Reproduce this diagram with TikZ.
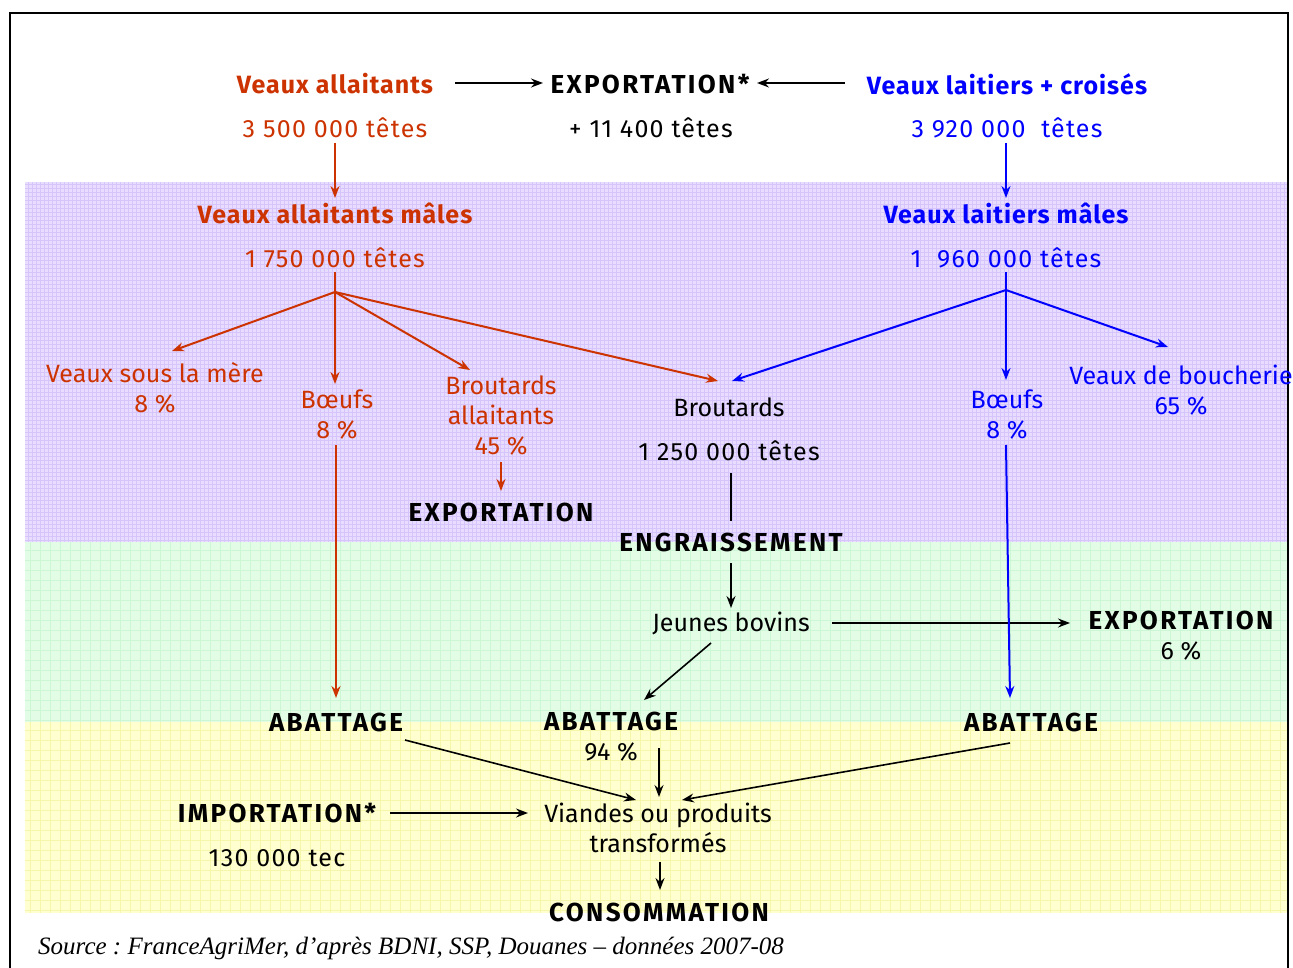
\documentclass[tikz,border=0pt]{standalone}
\usepackage{fontspec}
\setmainfont{Fira Sans}
\newfontfamily\srcfont{Liberation Serif}
\usetikzlibrary{arrows.meta,calc}
\definecolor{cred}{RGB}{204,51,0}
\definecolor{cblue}{RGB}{0,0,255}
\definecolor{bandpurple}{RGB}{232,220,255}
\definecolor{gridpurple}{RGB}{214,196,252}
\definecolor{bandgreen}{RGB}{226,252,230}
\definecolor{gridgreen}{RGB}{204,246,212}
\definecolor{bandyellow}{RGB}{255,255,208}
\definecolor{gridyellow}{RGB}{246,246,170}
\newcommand{\capsb}[1]{{\fontsize{26}{30}\selectfont\bfseries\addfontfeature{LetterSpace=9}#1}}
\tikzset{
  txt/.style={inner sep=0pt, align=center, font=\fontsize{25}{30}\selectfont},
  num/.style={txt, font=\fontsize{25}{30}\selectfont\addfontfeature{LetterSpace=5}},
  hd/.style={txt, font=\fontsize{25}{30}\selectfont\bfseries\addfontfeature{LetterSpace=4}},
  hdc/.style={txt, font=\fontsize{26}{30}\selectfont\bfseries\addfontfeature{LetterSpace=9}},
  arr/.style={line width=1.6pt, -{Stealth[length=12pt,width=9pt,inset=4pt]}},
  redarr/.style={arr, draw=cred, line width=2pt},
  bluearr/.style={arr, draw=cblue, line width=2pt},
}
\begin{document}
\begin{tikzpicture}[x=1pt,y=-1pt]
\useasboundingbox (0,0) rectangle (1293,968);
\clip (0,0) rectangle (1293,968);
\fill[white] (0,0) rectangle (1293,968);
% bands
\fill[bandpurple] (25,182) rectangle (1288,542);
\draw[gridpurple, line width=0.5pt, step=4pt] (25,182) grid (1288,542);
\fill[bandgreen] (25,542) rectangle (1288,722);
\draw[gridgreen, line width=0.5pt, step=10pt] (25,542) grid (1288,722);
\fill[bandyellow] (25,722) rectangle (1288,913);
\draw[gridyellow, line width=0.5pt, step=10pt] (25,722) grid (1288,913);
% frame
\draw[line width=2.5pt] (10,13) rectangle (1288,1000);

% nodes
\node[hd, text=cred] (va) at (335,84) {Veaux allaitants};
\node[num, text=cred] (vat) at (335,128) {3 500 000 têtes};
\node[hdc] (exp1) at (650,84) {EXPORTATION*};
\node[num] (expt) at (651,128) {+ 11 400 têtes};
\node[hd, text=cblue] (vl) at (1007,84) {Veaux laitiers + croisés};
\node[num, text=cblue] (vlt) at (1007,128) {3 920 000~~têtes};
\node[hd, text=cred] (vam) at (335,213) {Veaux allaitants mâles};
\node[num, text=cred] (vamt) at (335,258) {1 750 000 têtes};
\node[hd, text=cblue] (vlm) at (1006,213) {Veaux laitiers mâles};
\node[num, text=cblue] (vlmt) at (1006,258) {1~~960 000 têtes};
\node[txt, text=cred] (vsm) at (155,388) {Veaux sous la mère\\8 \%};
\node[txt, text=cred] (bf1) at (337,415) {Bœufs\\8 \%};
\node[txt, text=cred] (ba) at (501,416) {Broutards\\allaitants\\45 \%};
\node[hdc] (exp2) at (501,512) {EXPORTATION};
\node[txt] (br) at (729,407) {Broutards};
\node[num] (brt) at (729,451) {1 250 000 têtes};
\node[hdc] (eng) at (731,542) {ENGRAISSEMENT};
\node[txt] (jb) at (731,623) {Jeunes bovins};
\node[txt] (exp3) at (1181,636) {\capsb{EXPORTATION}\\6 \%};
\node[txt, text=cblue] (vb) at (1181,390) {Veaux de boucherie\\65 \%};
\node[txt, text=cblue] (bf2) at (1007,415) {Bœufs\\8 \%};
\node[hdc] (ab1) at (336,722) {ABATTAGE};
\node[txt] (ab2) at (611,737) {\capsb{ABATTAGE}\\94 \%};
\node[hdc] (ab3) at (1031,722) {ABATTAGE};
\node[hdc] (imp) at (277,813) {IMPORTATION*};
\node[num] (impt) at (277,858) {130 000 tec};
\node[txt] (vi) at (658,828) {Viandes ou produits\\transformés};
\node[hdc] (cons) at (659,912) {CONSOMMATION};
\node[inner sep=0pt, anchor=west, font=\srcfont\itshape\fontsize{25}{30}\selectfont\frenchspacing] (src) at (38,948) {Source : FranceAgriMer, d’après BDNI, SSP, Douanes – données 2007-08};

% branch points
\coordinate (rb) at (335,292);
\coordinate (lb) at (1006,290);

% top row
\draw[arr] ($(va.center)+(120,-1)$) -- ($(exp1.center)+(-107,-1)$);
\draw[arr] ($(vl.center)+(-162,-1)$) -- ($(exp1.center)+(107,-1)$);
\draw[redarr] ($(vat.center)+(0,15)$) -- ($(vam.center)+(0,-15)$);
\draw[bluearr] ($(vlt.center)+(-1,15)$) -- ($(vlm.center)+(0,-15)$);

% red branch
\draw[cred, line width=2pt] ($(vamt.center)+(0,14)$) -- (rb);
\draw[redarr] (rb) -- ($(vsm.center)+(17,-37)$);
\draw[redarr] (rb) -- ($(bf1.center)+(-2,-31)$);
\draw[redarr] (rb) -- ($(ba.center)+(-31,-46)$);
\draw[redarr] (rb) -- ($(br.center)+(-11,-26)$);
% blue branch
\draw[cblue, line width=2pt] ($(vlmt.center)+(0,14)$) -- (lb);
\draw[bluearr] (lb) -- ($(br.center)+(3,-26)$);
\draw[bluearr] (lb) -- ($(bf2.center)+(-1,-35)$);
\draw[bluearr] (lb) -- ($(vb.center)+(-13,-43)$);

\draw[redarr, line width=1.6pt] ($(ba.center)+(0,46)$) -- ($(exp2.center)+(0,-21)$);
\draw[line width=1.6pt] ($(brt.center)+(2,22)$) -- ($(eng.center)+(0,-21)$);
\draw[arr] ($(eng.center)+(0,21)$) -- ($(jb.center)+(0,-15)$);
\draw[arr] ($(jb.center)+(101,0)$) -- ($(exp3.center)+(-111,-13)$);
\draw[arr] ($(jb.center)+(-20,20)$) -- ($(ab2.center)+(33,-37)$);
\draw[redarr] ($(bf1.center)+(-1,30)$) -- ($(ab1.center)+(0,-24)$);
\draw[bluearr] ($(bf2.center)+(-1,30)$) -- ($(ab3.center)+(-21,-24)$);
\draw[arr] ($(ab1.center)+(69,18)$) -- ($(vi.center)+(-22,-28)$);
\draw[arr] ($(ab2.center)+(48,11)$) -- ($(vi.center)+(1,-31)$);
\draw[arr] ($(ab3.center)+(-21,21)$) -- ($(vi.center)+(24,-28)$);
\draw[arr] ($(imp.center)+(113,0)$) -- ($(vi.center)+(-130,-15)$);
\draw[arr] ($(vi.center)+(2,34)$) -- ($(cons.center)+(1,-22)$);
\end{tikzpicture}
\end{document}
